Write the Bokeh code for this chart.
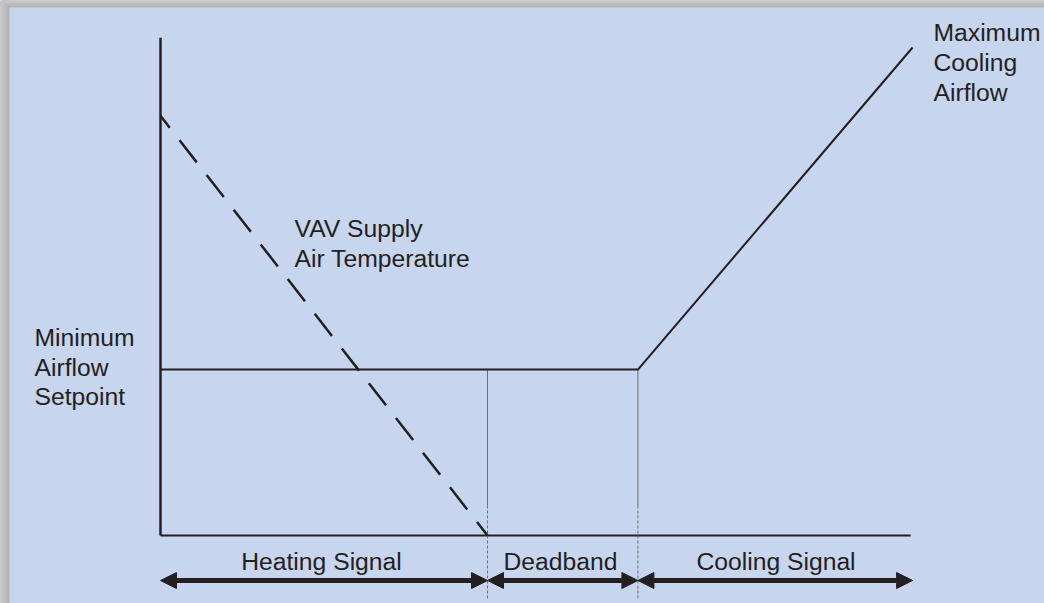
from bokeh.plotting import figure
from bokeh.models import Range1d, Arrow, NormalHead
from bokeh.core.properties import value
from bokeh.embed import file_html
from bokeh.resources import INLINE

# ---- data (schematic units: signal on x, airflow / temperature on y) ----
axis_x_end = 229.4          # end of horizontal (signal) axis
axis_y_top = 102            # top of vertical axis
heating_span = [0, 100]     # heating signal range
deadband_span = [100, 146]  # deadband range
cooling_span = [146, 230]   # cooling signal range
min_airflow = 34            # minimum airflow setpoint
max_airflow = 100           # maximum cooling airflow
sat_start = 86              # VAV supply air temperature at full heating
sat_end = 0                 # VAV supply air temperature at end of heating

airflow_x = [heating_span[0], deadband_span[1], cooling_span[1]]
airflow_y = [min_airflow, min_airflow, max_airflow]
sat_x = [heating_span[0], heating_span[1]]
sat_y = [sat_start, sat_end]

segment_labels = ["Heating Signal", "Deadband", "Cooling Signal"]
left_label = ["Minimum", "Airflow", "Setpoint"]
right_label = ["Maximum", "Cooling", "Airflow"]
curve_label = ["VAV Supply", "Air Temperature"]

# ---- layout helpers (page pixels -> chart units) ----
W, H = 1044, 603
sx, sy = 3.27, 4.88  # px per unit


def ux(px):
    return (px - 160) / sx


def uy(py):
    return (535 - py) / sy


def tb(py):
    # text baseline correction
    return uy(py - 8)


INK = "#231f20"
FONT = value("Liberation Sans")
FS = "24.7px"

p = figure(width=W, height=H, output_backend="svg", toolbar_location=None,
           x_range=Range1d(ux(0), ux(W)), y_range=Range1d(uy(H), uy(0)),
           x_axis_type=None, y_axis_type=None, min_border=0,
           background_fill_color="#c7d5ee", border_fill_color="#c7d5ee")
p.outline_line_color = None
p.xgrid.visible = False
p.ygrid.visible = False

# frame shadow (top and left)
shade = ["#b4b4b4", "#b9b9b9", "#bfbfbf", "#c5c5c5"]
for i, c in enumerate(shade):
    p.quad(left=ux(0), right=ux(9 - i * 2), bottom=uy(H), top=uy(0),
           fill_color=c, line_color=None)
    p.quad(left=ux(0), right=ux(W), bottom=uy(7 - i * 1.6), top=uy(0),
           fill_color=c, line_color=None)

# axes
p.line([0, 0], [0, axis_y_top], line_color=INK, line_width=2.5)
p.line([0, axis_x_end], [0, 0], line_color=INK, line_width=2)

# thin separator lines at heating end and deadband end
for xv in [deadband_span[0], deadband_span[1]]:
    p.line([xv, xv], [min_airflow, uy(505)], line_color="#6d6e71", line_width=1)
    p.line([xv, xv], [uy(505), uy(598)], line_color="#6d6e71", line_width=1,
           line_dash="3 2")

# airflow curve
p.line(airflow_x, airflow_y, line_color=INK, line_width=2)

# supply air temperature (dashed)
p.line(sat_x, sat_y, line_color=INK, line_width=2.5, line_dash="28 16",
       line_dash_offset=13)

# double-headed arrows
spans = [heating_span, deadband_span, cooling_span]
arrow_y = uy(580)
for a, b in spans:
    p.add_layout(Arrow(x_start=a, y_start=arrow_y, x_end=b, y_end=arrow_y,
                       line_color=INK, line_width=5,
                       start=NormalHead(size=16, fill_color=INK, line_color=INK),
                       end=NormalHead(size=16, fill_color=INK, line_color=INK)))

# segment labels
seg_centers = [ux(321), ux(560), ux(775.5)]
p.text(x=seg_centers, y=[tb(569.3)] * 3, text=segment_labels,
       text_font=FONT, text_font_size=FS, text_color=INK,
       text_align="center", text_baseline="alphabetic")

# left label
p.text(x=[ux(34)] * 3, y=[tb(345), tb(374.5), tb(404)], text=left_label,
       text_font=FONT, text_font_size=FS, text_color=INK,
       text_align="left", text_baseline="alphabetic")

# right label
p.text(x=[ux(933)] * 3, y=[tb(39.5), tb(69.5), tb(99.5)], text=right_label,
       text_font=FONT, text_font_size=FS, text_color=INK,
       text_align="left", text_baseline="alphabetic")

# curve label
p.text(x=[ux(294)] * 2, y=[tb(235.5), tb(265.5)], text=curve_label,
       text_font=FONT, text_font_size=FS, text_color=INK,
       text_align="left", text_baseline="alphabetic")

open("out.html", "w").write(file_html(p, INLINE))
